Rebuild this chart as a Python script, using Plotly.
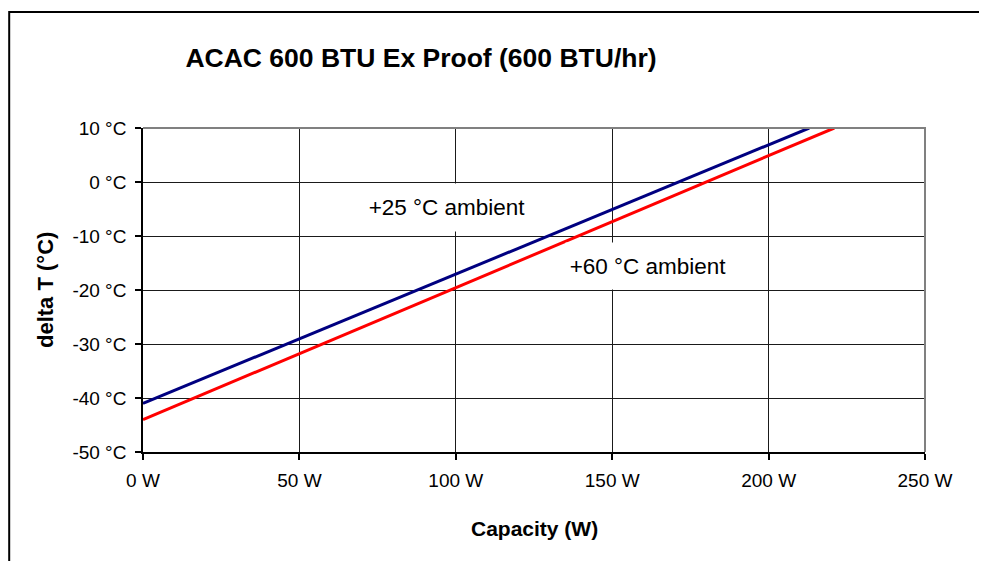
import plotly.graph_objects as go

chart_title = "ACAC 600 BTU Ex Proof (600 BTU/hr)"
x_title = "Capacity (W)"
y_title = "delta T (°C)"

cap_25 = [0, 213]
dt_25 = [-41, 10]
cap_60 = [0, 221]
dt_60 = [-44, 10]

x_ticks = [0, 50, 100, 150, 200, 250]
x_ticklabels = ["0 W", "50 W", "100 W", "150 W", "200 W", "250 W"]
y_ticks = [-50, -40, -30, -20, -10, 0, 10]
y_ticklabels = ["-50 °C", "-40 °C", "-30 °C", "-20 °C", "-10 °C", "0 °C", "10 °C"]

label_25 = "+25 °C ambient"
label_60 = "+60 °C ambient"

FONT = "Liberation Sans, Arial, sans-serif"

# page offset of the figure inside the html body
OFF = 8
W, H = 979, 553
L, T = 143 - OFF, 128 - OFF
R = W - (925 - OFF)
B = H - (452 - OFF)
pw, ph = W - L - R, H - T - B


def px(xpage):
    return (xpage - OFF - L) / pw


def py(ypage):
    return (H - B - (ypage - OFF)) / ph


fig = go.Figure()
fig.add_trace(go.Scatter(x=cap_25, y=dt_25, mode="lines",
                         line=dict(color="#000080", width=3), showlegend=False))
fig.add_trace(go.Scatter(x=cap_60, y=dt_60, mode="lines",
                         line=dict(color="#FF0000", width=3), showlegend=False))

axis_common = dict(
    showgrid=True, gridcolor="#1a1a1a", gridwidth=1,
    zeroline=False, showline=True, linecolor="#000000", linewidth=1.5,
    ticks="outside", ticklen=6, tickcolor="#000000", tickwidth=1.5,
    tickfont=dict(family=FONT, size=19, color="#000000"),
)

fig.update_xaxes(range=[0, 250], tickvals=x_ticks, ticktext=x_ticklabels,
                 ticklabelstandoff=4, **axis_common)
fig.update_yaxes(range=[-50, 10], tickvals=y_ticks, ticktext=y_ticklabels,
                 ticklabelstandoff=5, **axis_common)

shapes = [
    # outer frame (left and top)
    dict(type="path", xref="paper", yref="paper",
         path=f"M {px(9.2)} {py(H + 40)} L {px(9.2)} {py(12)} L {px(W + 40)} {py(12)}",
         line=dict(color="#000000", width=2)),
    # plot border top and right in gray
    dict(type="path", xref="paper", yref="paper",
         path="M 0 1 L 1 1 L 1 0",
         line=dict(color="#808080", width=2)),
]

annotations = [
    dict(text=f"<b>{y_title}</b>", xref="paper", yref="paper", x=px(45), y=py(290),
         textangle=-90, showarrow=False, font=dict(family=FONT, size=22, color="#000"),
         xanchor="center", yanchor="middle"),
    dict(text=f"<b>{x_title}</b>", xref="paper", yref="paper", x=px(534), y=py(528),
         showarrow=False, font=dict(family=FONT, size=21, color="#000"),
         xanchor="center", yanchor="middle"),
    dict(text=label_25, x=97.2, y=-4.8, xref="x", yref="y", showarrow=False,
         font=dict(family=FONT, size=22.5, color="#000"), bgcolor="#ffffff",
         borderpad=2, height=43, width=160),
    dict(text=label_60, x=161.6, y=-15.6, xref="x", yref="y", showarrow=False,
         font=dict(family=FONT, size=22.5, color="#000"), bgcolor="#ffffff",
         borderpad=2, height=42, width=160),
]

fig.update_layout(
    width=W, height=H,
    margin=dict(l=L, r=R, t=T, b=B),
    paper_bgcolor="#ffffff", plot_bgcolor="#ffffff",
    title=dict(text=f"<b>{chart_title}</b>", x=px(421), xref="paper", xanchor="center",
               y=1 - (58 - OFF) / H, yref="container", yanchor="middle",
               font=dict(family=FONT, size=26.5, color="#000")),
    shapes=shapes, annotations=annotations,
    font=dict(family=FONT),
)

fig.write_html("out.html")
